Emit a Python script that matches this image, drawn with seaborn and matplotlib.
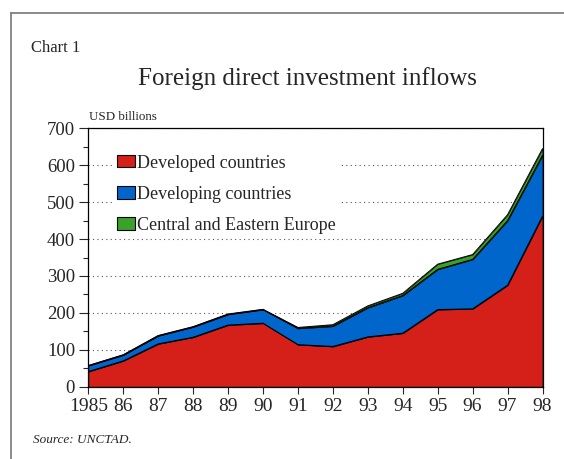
import numpy as np
import pandas as pd
import matplotlib.pyplot as plt
import seaborn as sns
from matplotlib.lines import Line2D
from matplotlib.ticker import MultipleLocator

# Data (USD billions)
years = [1985, 1986, 1987, 1988, 1989, 1990, 1991, 1992, 1993, 1994, 1995, 1996, 1997, 1998]
developed = [41, 70, 116, 134, 167, 172, 114, 109, 135, 145, 209, 211, 275, 462]
developing = [16, 16, 22, 28, 29, 37, 44, 55, 79, 102, 109, 134, 175, 165]
cee = [0.4, 0.5, 0.6, 0.7, 1.0, 0.6, 2.5, 4.0, 5.0, 6.0, 14.0, 13.0, 16.0, 18.0]
year_labels = ["1985", "86", "87", "88", "89", "90", "91", "92", "93", "94", "95", "96", "97", "98"]
series_names = ["Developed countries", "Developing countries", "Central and Eastern Europe"]

df = pd.DataFrame({"year": years, series_names[0]: developed,
                   series_names[1]: developing, series_names[2]: cee})

sns.set_style("ticks")
plt.rcParams['font.family'] = ['Liberation Serif', 'DejaVu Serif']

W, H = 564, 459
fig = plt.figure(figsize=(W / 100, H / 100), dpi=100)
# axes box: left 88, right 542.5, top 128.3, bottom 386.7 (pixels)
ax = fig.add_axes([88.3 / W, 1 - 386.7 / H, (542.5 - 88.3) / W, (386.7 - 128.3) / H])

colors = ["#d42018", "#0066cc", "#3aa22a"]
ax.stackplot(df["year"], df[series_names[0]], df[series_names[1]], df[series_names[2]],
             colors=colors, edgecolor="black", linewidth=0.5, labels=series_names, zorder=2)

# black outlines on top of each layer
tops = df[series_names].cumsum(axis=1)
for name in series_names:
    sns.lineplot(x=df["year"], y=tops[name], color="black", linewidth=0.7, ax=ax, zorder=3)

ax.set_xlim(1985, 1998)
ax.set_ylim(0, 700)
ax.set_xticks(years)
ax.set_xticklabels(year_labels, fontsize=14)
ax.yaxis.set_major_locator(MultipleLocator(100))
ax.yaxis.set_minor_locator(MultipleLocator(50))
ax.tick_params(axis='y', which='major', labelsize=13.5, length=6.5, width=0.8, direction='out', pad=3)
ax.tick_params(axis='y', which='minor', length=3.5, width=0.8, direction='out')
ax.tick_params(axis='x', length=5, width=0.8, direction='out', pad=3)
ax.set_xlabel("")
ax.set_ylabel("")

ax.yaxis.grid(True, linestyle=(0, (1, 3)), color="#555555", linewidth=0.8)
ax.set_axisbelow(True)
for s in ax.spines.values():
    s.set_linewidth(0.9)
    s.set_color("black")

leg = ax.legend(loc="center left", bbox_to_anchor=(0.058, 0.745), fontsize=13, frameon=True,
                handlelength=1.0, handleheight=0.67, handletextpad=0.08, labelspacing=0.78,
                borderpad=0.15, borderaxespad=0.0, fancybox=False)
leg.get_frame().set_facecolor("white")
leg.get_frame().set_edgecolor("white")
leg.get_frame().set_alpha(1)
for h in leg.legend_handles:
    h.set_edgecolor("black")
    h.set_linewidth(0.8)

fig.text(30.7 / W, 1 - 51.7 / H, "Chart 1", fontsize=12, va="baseline", ha="left")
fig.text(307 / W, 1 - 85 / H, "Foreign direct investment inflows", fontsize=18,
         va="baseline", ha="center")
fig.text(89.3 / W, 1 - 120 / H, "USD billions", fontsize=9.4, va="baseline", ha="left")
fig.text(32.7 / W, 1 - 443 / H, "Source: UNCTAD.", fontsize=9.5, style="italic",
         va="baseline", ha="left")

# outer frame
fig.add_artist(Line2D([10.5 / W, 10.5 / W], [0, 1 - 13 / H], transform=fig.transFigure,
                      color="#777777", linewidth=1.2))
fig.add_artist(Line2D([10.5 / W, 1], [1 - 13 / H, 1 - 13 / H], transform=fig.transFigure,
                      color="#777777", linewidth=1.2))

fig.savefig("out.png", dpi=100)
